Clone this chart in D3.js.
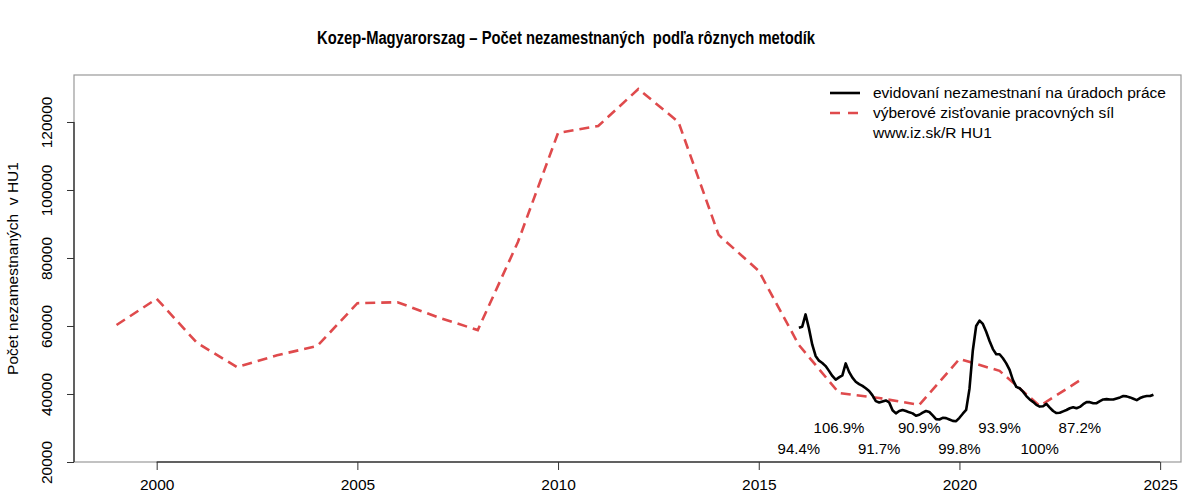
<!DOCTYPE html>
<html><head><meta charset="utf-8">
<script src="https://cdn.jsdelivr.net/npm/d3@7"></script>
<style>body{margin:0;background:#fff}svg{font-family:"Liberation Sans",Arial,sans-serif}text{white-space:pre}</style>
</head><body><svg id="c" width="1200" height="500"></svg>
<script>
const surveyYears = [1999,2000,2001,2002,2003,2004,2005,2006,2007,2008,2009,2010,2011,2012,2013,2014,2015,2016,2017,2018,2019,2020,2021,2022,2023];
const surveyValues = [60300,68000,55100,47900,51400,54100,66700,67000,62600,58800,84700,116800,118800,129700,120000,86800,76200,54400,40300,38800,36800,50300,46800,36500,44000];
const registeredStart = 2016; // January 2016, monthly
const registeredValues = [59500,59800,63400,59300,54500,51200,49800,49100,48200,46800,45300,44200,
 44900,45500,49000,46500,44800,43600,42900,42400,41700,40900,39600,37900,
 37500,37800,38100,37500,35200,34300,35000,35300,35000,34600,34300,33600,
 33900,34500,35000,34700,33700,32600,32500,33000,32900,32500,32100,32000,
 33000,34200,35300,41500,52800,60000,61600,60600,58300,55600,53200,51700,
 51700,50500,49000,47100,44100,42100,41700,40700,39400,38400,37700,36800,
 36300,36400,37100,36000,35000,34400,34500,34900,35300,35800,36100,35800,
 36200,37000,37600,37600,37300,37300,37900,38400,38500,38400,38400,38700,
 39000,39400,39300,39000,38600,38200,38800,39200,39400,39400,39800];
const ratioYears = [2016,2017,2018,2019,2020,2021,2022,2023];
const ratioLabels = ["94.4%","106.9%","91.7%","90.9%","99.8%","93.9%","100%","87.2%"];
const xTicks = [2000,2005,2010,2015,2020,2025];
const yTicks = [20000,40000,60000,80000,100000,120000];
const title = "Kozep-Magyarorszag – Počet nezamestnaných  podľa rôznych metodík";
const yLabel = "Počet nezamestnaných  v HU1";
const legendLabels = ["evidovaní nezamestnaní na úradoch práce","výberové zisťovanie pracovných síl","www.iz.sk/R HU1"];

const svg = d3.select("#c");
const L=74,R=1181,T=75,B=462;
const x = d3.scaleLinear().domain([1997.94,2025.52]).range([L,R]);
const y = d3.scaleLinear().domain([20000,133820]).range([B,T]);
const red = "#df4a4c";

// box
svg.append("rect").attr("x",L).attr("y",T).attr("width",R-L).attr("height",B-T)
  .attr("fill","none").attr("stroke","#999").attr("stroke-width",1.2);

// axes
const xa = svg.append("g").attr("transform",`translate(0,${B})`)
  .call(d3.axisBottom(x).tickValues(xTicks).tickFormat(d3.format("d")).tickSize(8).tickPadding(6).tickSizeOuter(0));
const ya = svg.append("g").attr("transform",`translate(${L},0)`)
  .call(d3.axisLeft(y).tickValues(yTicks).tickFormat(d3.format("d")).tickSize(7).tickSizeOuter(0));
[xa,ya].forEach(a=>{a.selectAll("text").attr("font-size",15.5).attr("fill","#000").attr("font-family","Liberation Sans, Arial, sans-serif");
  a.selectAll("line").attr("stroke","#333");});
xa.select(".domain").attr("d",`M${x(2000)},0H${x(2025)}`).attr("stroke","#000");
ya.select(".domain").attr("d",`M0,${y(20000)}V${y(120000)}`).attr("stroke","#000");
ya.selectAll(".tick text").attr("x",0).attr("y",0)
  .attr("dy",0).attr("text-anchor","middle")
  .attr("transform",`translate(-22,0) rotate(-90)`);
xa.selectAll(".tick text").attr("dy","0.9em");

// lines
const lineS = d3.line().x((d,i)=>x(surveyYears[i])).y(d=>y(d));
svg.append("path").attr("d",lineS(surveyValues)).attr("fill","none").attr("stroke",red)
  .attr("stroke-width",2.6).attr("stroke-dasharray","10,6");
const lineR = d3.line().x((d,i)=>x(registeredStart+i/12)).y(d=>y(d));
svg.append("path").attr("d",lineR(registeredValues)).attr("fill","none").attr("stroke","#000")
  .attr("stroke-width",2.6).attr("stroke-linejoin","round");

// ratio labels
svg.append("g").selectAll("text").data(ratioLabels).join("text")
  .attr("x",(d,i)=>x(ratioYears[i])).attr("y",(d,i)=>y(i%2===0?23800:30000))
  .attr("dy","0.35em").attr("text-anchor","middle").attr("font-size",15).text(d=>d);

// title
svg.append("text").attr("x",566).attr("y",44).attr("text-anchor","middle")
  .attr("font-size",17.5).attr("font-weight","bold")
  .attr("textLength",498).attr("lengthAdjust","spacingAndGlyphs").text(title);
// y label
svg.append("text").attr("transform",`translate(13,${(T+B)/2}) rotate(-90)`)
  .attr("text-anchor","middle").attr("font-size",15.5).attr("dy","0.35em").text(yLabel);

// legend
const lg = svg.append("g");
const rows=[93,113,133];
lg.append("line").attr("x1",830).attr("x2",860).attr("y1",rows[0]).attr("y2",rows[0]).attr("stroke","#000").attr("stroke-width",2.6);
lg.append("line").attr("x1",830).attr("x2",860).attr("y1",rows[1]).attr("y2",rows[1]).attr("stroke",red).attr("stroke-width",2.6).attr("stroke-dasharray","10,8");
lg.selectAll("text").data(legendLabels).join("text").attr("x",873).attr("y",(d,i)=>rows[i])
  .attr("dy","0.35em").attr("font-size",15.5).text(d=>d);
</script></body></html>
